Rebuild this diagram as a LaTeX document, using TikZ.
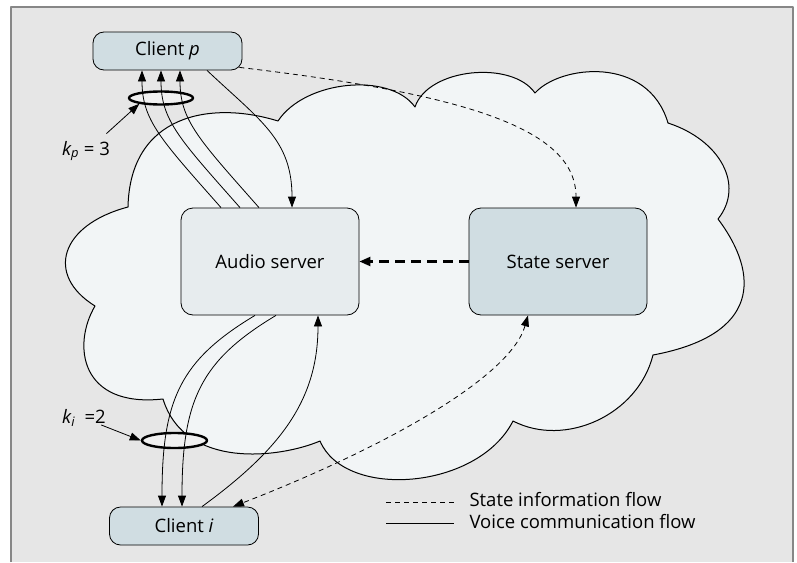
\documentclass[tikz,border=0pt]{standalone}
\usepackage{fontspec}
\setmainfont{Open Sans}
\usetikzlibrary{arrows.meta,shapes.geometric}

\definecolor{panelgray}{RGB}{230,230,230}
\definecolor{framegray}{RGB}{135,135,135}
\definecolor{cloudfill}{RGB}{242,245,246}
\definecolor{boxblue}{RGB}{208,221,226}
\definecolor{boxlight}{RGB}{231,236,238}
\definecolor{ringfill}{RGB}{240,240,240}

\tikzset{
	client/.style={draw, fill=boxblue, rounded corners=11pt, line width=0.8pt,
		minimum width=149pt, minimum height=38pt},
	server/.style={draw, fill=boxblue, rounded corners=12pt, line width=0.8pt,
		minimum width=178pt, minimum height=107pt},
	ring/.style={ellipse, draw, line width=2.4pt, fill=ringfill, inner sep=0pt},
	voice/.style={line width=0.8pt, -{Triangle[length=11pt,width=8pt]}},
	stateinfo/.style={voice, dash pattern=on 5pt off 4pt},
	pointer/.style={line width=0.8pt, -{Triangle[length=11pt,width=8pt]}}
}

\begin{document}
\begin{tikzpicture}[
				x=1pt,
				y=-1pt,
				line join=round,
				font=\fontsize{18.5}{22}\selectfont
			]

			\useasboundingbox (0,0) rectangle (797,562);

			% Panel
			\fill[panelgray] (11,7) rectangle (793,562);
			\draw[framegray, line width=1.5pt] (11,562) -- (11,7) -- (793,7) -- (793,562);

			% Network cloud
			\draw[fill=cloudfill, line width=1pt] (128,207)
			.. controls (130,115) and (210,100) .. (278,121)
			.. controls (305,80) and (390,72) .. (415,107)
			.. controls (428,68) and (512,60) .. (535,93)
			.. controls (560,65) and (648,55) .. (668,123)
			.. controls (720,140) and (745,185) .. (718,219)
			.. controls (760,275) and (760,335) .. (653,355)
			.. controls (638,415) and (565,448) .. (513,421)
			.. controls (478,490) and (345,500) .. (320,441)
			.. controls (280,458) and (185,470) .. (163,399)
			.. controls (80,408) and (72,345) .. (95,306)
			.. controls (45,275) and (60,225) .. cycle;

			% Servers and clients
			\node[server, fill=boxlight] (audio) at (270,261.5) {Audio server};
			\node[server] (state) at (558,261.5) {State server};
			\node[client] (cp) at (167.5,51) {Client {\itshape p}};
			\node[client] (ci) at (184,526) {Client {\itshape i}};

			% Stream bundles
			\node[ring, minimum width=64pt, minimum height=13pt] (kpring) at (161,98) {};
			\node[ring, minimum width=65pt, minimum height=15pt] (kiring) at (174.5,440.5) {};

			% Voice streams to client p
			\draw[voice] ([xshift=-49pt]audio.north) .. controls +(-60,-68) and +(0,50) .. ([xshift=-25.5pt]cp.south);
			\draw[voice] ([xshift=-30pt]audio.north) .. controls +(-60,-68) and +(0,50) .. ([xshift=-6.5pt]cp.south);
			\draw[voice] ([xshift=-11pt]audio.north) .. controls +(-60,-68) and +(0,50) .. ([xshift=12.5pt]cp.south);
			\draw[voice] ([xshift=39.5pt]cp.south) .. controls +(53,50) and +(0,-68) .. ([xshift=22pt]audio.north);

			% Voice streams to client i
			\draw[voice] ([xshift=-15pt]audio.south) .. controls +(-75,45) and +(0,-107) .. ([xshift=-22pt]ci.north);
			\draw[voice] ([xshift=6pt]audio.south) .. controls +(-75,45) and +(0,-107) .. ([xshift=-2pt]ci.north);
			\draw[voice] ([xshift=18pt]ci.north) .. controls +(78,-57) and +(0,85) .. ([xshift=48pt]audio.south);

			% State information
			\draw[stateinfo] ([xshift=-3pt,yshift=3pt]cp.south east) .. controls +(230,27) and +(0,-78) .. ([xshift=18pt]state.north);
			\draw[stateinfo, {Triangle[length=11pt,width=8pt]}-{Triangle[length=11pt,width=8pt]}]
			([xshift=-30pt]state.south) .. controls +(-18,63) and +(147,-57) .. ([xshift=49pt]ci.north);
			\draw[line width=2.2pt, dash pattern=on 10pt off 6pt, -{Triangle[length=11pt,width=9pt]}] (state.west) -- (audio.east);

			% Bundle sizes
			\node (kplabel) at (86,151) {{\itshape k}\textsubscript{\itshape p} = 3};
			\node (kilabel) at (84,418) {{\itshape k}\textsubscript{\itshape i}\ \ =2};
			\draw[pointer] ([xshift=-7pt,yshift=4pt]kplabel.north east) -- (kpring.195);
			\draw[pointer] ([xshift=-8pt,yshift=-7pt]kilabel.east) -- (kiring.west);

			% Legend
			\node[anchor=west] (legstate) at (466,500) {State information flow};
			\node[anchor=west] (legvoice) at (466,522) {Voice communication flow};
			\draw[line width=0.8pt, dash pattern=on 5pt off 4pt] ([xshift=-80pt,yshift=-2pt]legstate.west) -- ([xshift=-12pt,yshift=-2pt]legstate.west);
			\draw[line width=0.8pt] ([xshift=-80pt,yshift=-1pt]legvoice.west) -- ([xshift=-12pt,yshift=-1pt]legvoice.west);

		\end{tikzpicture}
\end{document}
